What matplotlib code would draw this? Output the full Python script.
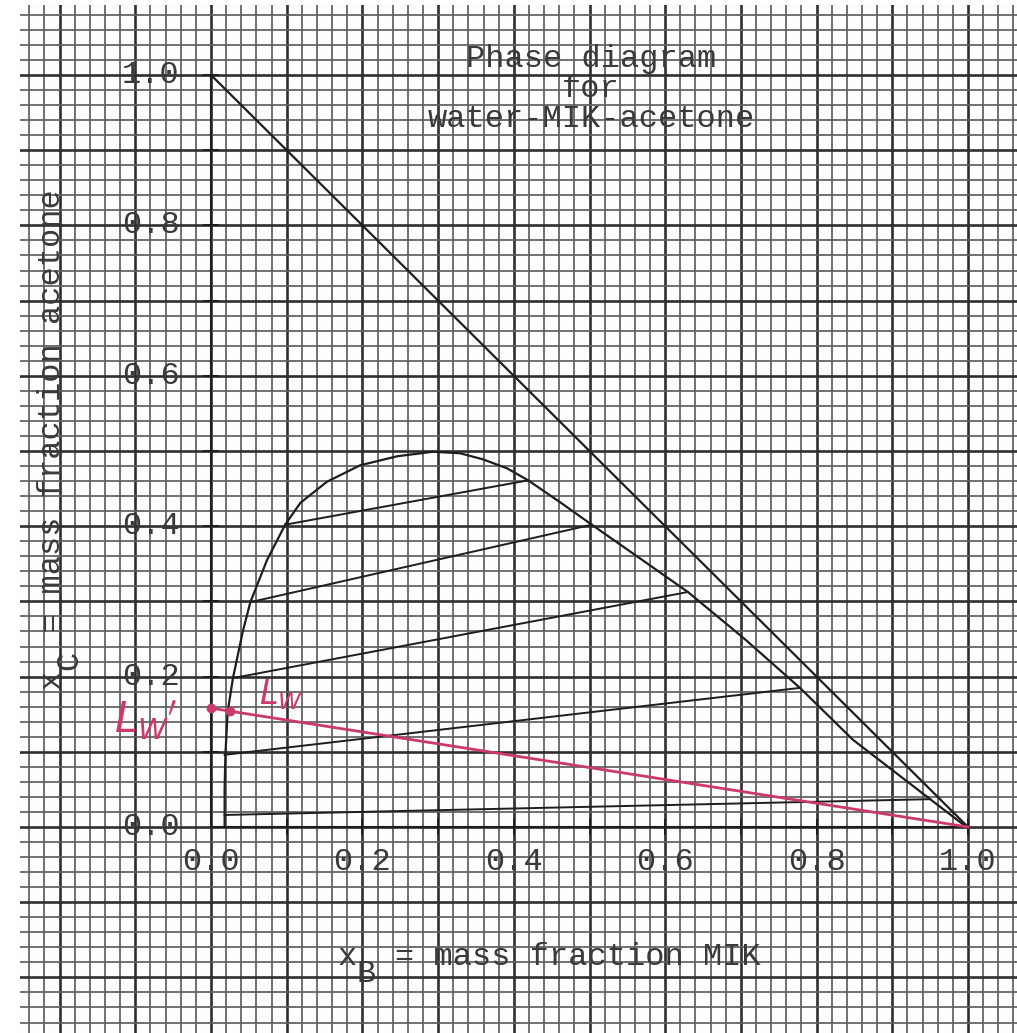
import matplotlib.pyplot as plt
from matplotlib.ticker import MultipleLocator

# ---- data -----------------------------------------------------------------
# binodal (solubility) curve, water-rich branch -> plait region -> MIK-rich branch
binodal_x = [0.018, 0.018, 0.019, 0.022, 0.029, 0.042, 0.052, 0.074, 0.098, 0.118,
             0.153, 0.197, 0.246, 0.293, 0.329, 0.359, 0.391, 0.419, 0.461, 0.503,
             0.567, 0.630, 0.705, 0.778, 0.848, 0.950, 0.998]
binodal_y = [0.000, 0.050, 0.096, 0.153, 0.198, 0.260, 0.299, 0.355, 0.402, 0.431,
             0.459, 0.481, 0.493, 0.499, 0.497, 0.489, 0.477, 0.461, 0.432, 0.402,
             0.357, 0.3125, 0.250, 0.185, 0.116, 0.037, 0.000]

# tie lines: raffinate end (left) and extract end (right)
tie_left_x = [0.018, 0.018, 0.029, 0.052, 0.098]
tie_left_y = [0.016, 0.096, 0.198, 0.299, 0.402]
tie_right_x = [0.950, 0.778, 0.630, 0.503, 0.419]
tie_right_y = [0.037, 0.185, 0.3125, 0.402, 0.461]

# hand-drawn red line from L_W' through L_W to pure MIK
red_x = [0.0, 1.0]
red_y = [0.158, 0.0]
red_pts_x = [0.0, 0.025]
red_pts_y = [0.158, 0.154]

tick_vals = [0.0, 0.2, 0.4, 0.6, 0.8, 1.0]
tick_labels = ["0.0", "0.2", "0.4", "0.6", "0.8", "1.0"]
small_ticks = [0.1, 0.2, 0.3, 0.4, 0.5, 0.6, 0.7, 0.8, 0.9, 1.0]

title_lines = ["Phase diagram", "for", "water-MIK-acetone"]

# ---- figure -------------------------------------------------------------
W, H = 1017, 1033
fig = plt.figure(figsize=(W / 100, H / 100), dpi=100)
fig.patch.set_facecolor("white")

# pixel calibration of the scan: x=0 at 211px, x=1 at 968px; y=0 at 827px, y=1 at 75px
px0, sx = 211.0, 757.0
py0, sy = 827.0, 752.0
left_px, top_px = 20, 5
ax = fig.add_axes([left_px / W, 0, (W - left_px) / W, (H - top_px) / H])
ax.set_xlim((left_px - px0) / sx, (W - px0) / sx)
ax.set_ylim((py0 - H) / sy, (py0 - top_px) / sy)
ax.set_facecolor("#fdfdfd")

# graph paper grid
for axis in (ax.xaxis, ax.yaxis):
    axis.set_major_locator(MultipleLocator(0.1))
    axis.set_minor_locator(MultipleLocator(0.02))
ax.grid(which="minor", color="#5e5e5e", lw=1.25)
ax.grid(which="major", color="#2e2e2e", lw=1.9)
ax.set_axisbelow(True)
ax.tick_params(which="both", length=0, labelbottom=False, labelleft=False)
for s in ax.spines.values():
    s.set_visible(False)

ink = "#1e1e1e"
red = "#cc3a6c"
mono = "Liberation Mono"
txt = "#3a3a3a"
fs = 23
char_w = 0.6 * fs * 100 / 72 / sx   # one typewriter cell in data units

# axes of the triangle
ax.plot([0, 1], [0, 0], color=ink, lw=1.5)
ax.plot([0, 0], [0, 1], color=ink, lw=1.5)
ax.plot([0, 1], [1, 0], color=ink, lw=1.6)
ax.plot([0] * len(small_ticks), small_ticks, ls="none", marker="_", ms=12, mew=1.4, color=ink)
ax.plot(small_ticks, [0] * len(small_ticks), ls="none", marker="|", ms=12, mew=1.4, color=ink)

# binodal and tie lines
ax.plot(binodal_x, binodal_y, color=ink, lw=1.6)
for x1, y1, x2, y2 in zip(tie_left_x, tie_left_y, tie_right_x, tie_right_y):
    ax.plot([x1, x2], [y1, y2], color=ink, lw=1.4)

# red construction line
ax.plot(red_x, red_y, color=red, lw=2.0)
ax.plot(red_pts_x, red_pts_y, ls="none", marker="o", ms=6, color=red)
ax.text(-0.128, 0.125, r"$L_W{}^{\prime}$", color=red, fontsize=30, ha="left", va="baseline")
ax.text(0.064, 0.163, r"$L_W$", color=red, fontsize=24, ha="left", va="baseline")

# tick labels
for v, lab in zip(tick_vals, tick_labels):
    ax.text(-0.041, v, lab, family=mono, fontsize=fs, color=txt, ha="right", va="center")
    ax.text(v, -0.047, lab, family=mono, fontsize=fs, color=txt, ha="center", va="center")

# title block
for i, line in enumerate(title_lines):
    ax.text(0.502, 1.0106 - i * 0.0398, line, family=mono, fontsize=fs, color=txt,
            ha="center", va="baseline")

# axis labels, typed with a subscript dropped half a line
xl, yb = 0.1665, -0.1835
ax.text(xl, yb, "x", family=mono, fontsize=fs, color=txt, ha="left", va="baseline")
ax.text(xl + char_w, yb - 0.0225, "B", family=mono, fontsize=fs, color=txt,
        ha="left", va="baseline")
ax.text(xl + 3 * char_w, yb, "= mass fraction MIK", family=mono, fontsize=fs,
        color=txt, ha="left", va="baseline")

yx, ys = -0.1995, 0.1835
cy = char_w * sx / sy
ax.text(yx, ys, "x", family=mono, fontsize=fs, color=txt, ha="left", va="baseline",
        rotation=90, rotation_mode="anchor")
ax.text(yx + 0.0225, ys + cy, "C", family=mono, fontsize=fs, color=txt, ha="left",
        va="baseline", rotation=90, rotation_mode="anchor")
ax.text(yx, ys + 3 * cy, "= mass fraction acetone", family=mono, fontsize=fs,
        color=txt, ha="left", va="baseline", rotation=90, rotation_mode="anchor")

fig.savefig("out.png", dpi=100, facecolor=fig.get_facecolor())
